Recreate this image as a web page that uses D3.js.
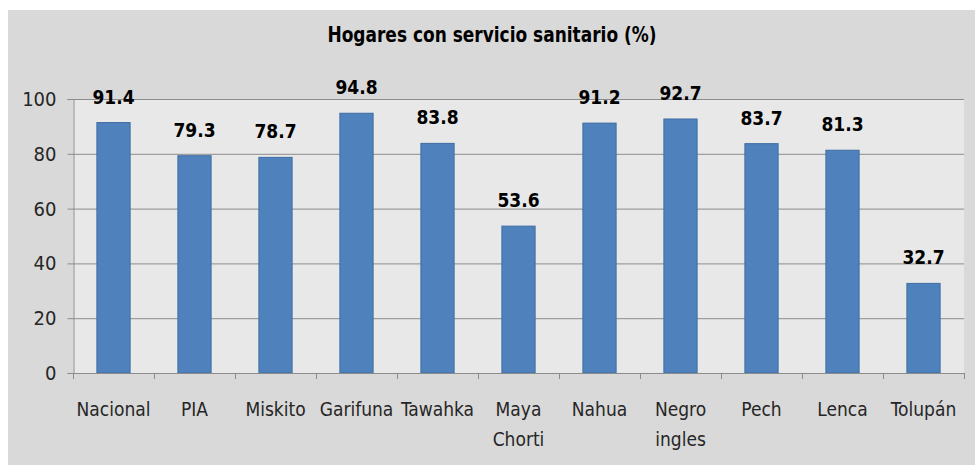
<!DOCTYPE html>
<html>
<head>
<meta charset="utf-8">
<script src="https://cdn.jsdelivr.net/npm/d3@7"></script>
<style>
  body { margin: 0; background: #fff; }
  svg { display: block; font-family: "Liberation Sans Narrow", "DejaVu Sans Condensed", "Liberation Sans", sans-serif; }
</style>
</head>
<body>
<div id="chart"></div>
<script>
  // categories and values
  let categories = ['Nacional', 'PIA', 'Miskito', 'Garifuna', 'Tawahka', 'Maya\nChorti', 'Nahua', 'Negro\ningles', 'Pech', 'Lenca', 'Tolupán']
  let values = [91.4, 79.3, 78.7, 94.8, 83.8, 53.6, 91.2, 92.7, 83.7, 81.3, 32.7]
  let yTicks = [0, 20, 40, 60, 80, 100]

  let width = 975, height = 465
  let plot = { left: 73, right: 964, top: 99, bottom: 373 }

  let svg = d3.select('#chart').append('svg')
    .attr('width', width)
    .attr('height', height)

  // outer chart background
  svg.append('rect')
    .attr('x', 8).attr('y', 10)
    .attr('width', width - 8).attr('height', height - 10)
    .attr('fill', '#d9d9d9')

  // plot area
  svg.append('rect')
    .attr('x', plot.left).attr('y', plot.top)
    .attr('width', plot.right - plot.left).attr('height', plot.bottom - plot.top)
    .attr('fill', '#e8e8e8')

  let x = d3.scaleBand()
    .domain(categories)
    .range([plot.left, plot.right])
    .paddingInner(0.59)
    .paddingOuter(0.295)

  let y = d3.scaleLinear()
    .domain([0, 100])
    .range([plot.bottom, plot.top])

  // gridlines
  svg.append('g')
    .selectAll('line')
    .data(yTicks.filter(d => d > 0))
    .enter().append('line')
      .attr('x1', plot.left).attr('x2', plot.right)
      .attr('y1', d => y(d) + 0.5).attr('y2', d => y(d) + 0.5)
      .attr('stroke', '#8c8c8c')
      .attr('stroke-width', 1)

  // y axis
  let yAxis = svg.append('g')
    .attr('transform', `translate(${plot.left + 0.5},0)`)
    .call(d3.axisLeft(y).tickValues(yTicks).tickSize(6).tickPadding(11))
  yAxis.select('.domain').attr('stroke', '#8c8c8c')
  yAxis.selectAll('.tick line').attr('stroke', '#8c8c8c')
  yAxis.selectAll('.tick text')
    .attr('font-size', 20)
    .attr('fill', '#262626')
    .style('font-family', '"Liberation Sans Narrow", "DejaVu Sans Condensed", sans-serif')

  // bars
  svg.append('g')
    .selectAll('rect')
    .data(values)
    .enter().append('rect')
      .attr('x', (d, i) => x(categories[i]))
      .attr('y', d => y(d))
      .attr('width', x.bandwidth())
      .attr('height', d => y(0) - y(d))
      .attr('fill', '#4f81bd')
      .attr('stroke', '#3d6ca3')
      .attr('stroke-width', 1)

  // value labels
  svg.append('g')
    .selectAll('text')
    .data(values)
    .enter().append('text')
      .attr('x', (d, i) => x(categories[i]) + x.bandwidth() / 2)
      .attr('y', d => y(d) - 19)
      .attr('text-anchor', 'middle')
      .attr('font-size', 19)
      .attr('font-weight', 'bold')
      .attr('fill', '#000')
      .text(d => d.toFixed(1))

  // x axis
  let step = x.step()
  let bottom = svg.append('g')
  bottom.append('line')
    .attr('x1', plot.left).attr('x2', plot.right)
    .attr('y1', plot.bottom + 0.5).attr('y2', plot.bottom + 0.5)
    .attr('stroke', '#8c8c8c')
  bottom.selectAll('.xtick')
    .data(d3.range(categories.length + 1))
    .enter().append('line')
      .attr('class', 'xtick')
      .attr('x1', i => Math.round(plot.left + i * step) + 0.5)
      .attr('x2', i => Math.round(plot.left + i * step) + 0.5)
      .attr('y1', plot.bottom)
      .attr('y2', plot.bottom + 6)
      .attr('stroke', '#8c8c8c')

  // category labels, some on two lines
  let labels = bottom.selectAll('.xlabel')
    .data(categories)
    .enter().append('text')
      .attr('class', 'xlabel')
      .attr('text-anchor', 'middle')
      .attr('font-size', 19)
      .attr('fill', '#262626')
      .attr('transform', d => `translate(${x(d) + x.bandwidth() / 2},${plot.bottom + 43})`)
  labels.selectAll('tspan')
    .data(d => d.split('\n'))
    .enter().append('tspan')
      .attr('x', 0)
      .attr('dy', (d, i) => i === 0 ? 0 : 30)
      .text(d => d)

  // title, squeezed a little to match the narrow original face
  svg.append('text')
    .attr('transform', 'translate(492,42) scale(0.9,1)')
    .attr('text-anchor', 'middle')
    .attr('font-size', 21)
    .attr('font-weight', 'bold')
    .attr('fill', '#000')
    .text('Hogares con servicio sanitario (%)')
</script>
</body>
</html>
